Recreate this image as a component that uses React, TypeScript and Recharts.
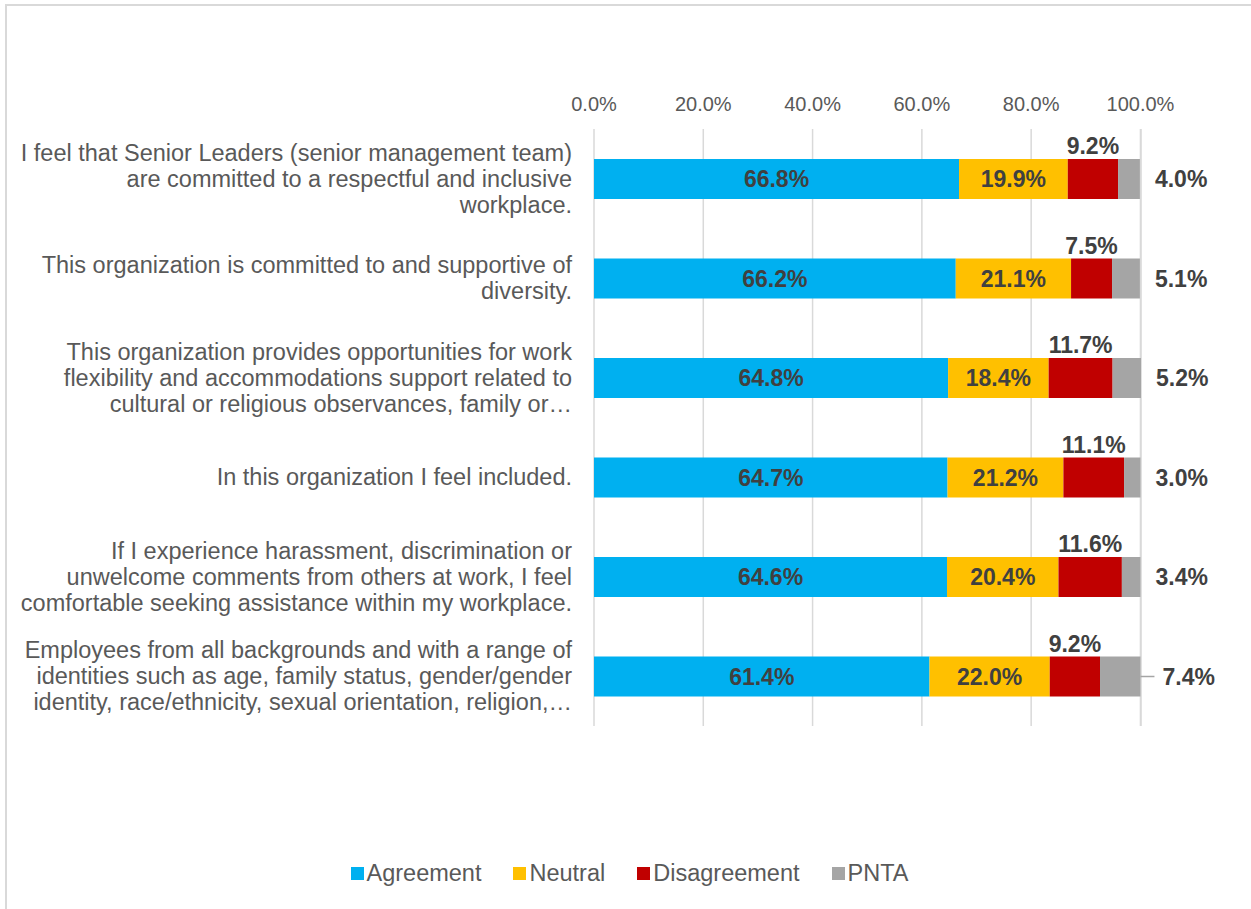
import { BarChart, Bar, XAxis, YAxis, CartesianGrid, LabelList, Legend } from 'recharts';

const questions = [
  'I feel that Senior Leaders (senior management team)\nare committed to a respectful and inclusive\nworkplace.',
  'This organization is committed to and supportive of\ndiversity.',
  'This organization provides opportunities for work\nflexibility and accommodations support related to\ncultural or religious observances, family or…',
  'In this organization I feel included.',
  'If I experience harassment, discrimination or\nunwelcome comments from others at work, I feel\ncomfortable seeking assistance within my workplace.',
  'Employees from all backgrounds and with a range of\nidentities such as age, family status, gender/gender\nidentity, race/ethnicity, sexual orientation, religion,…',
];

const agreement = [66.8, 66.2, 64.8, 64.7, 64.6, 61.4];
const neutral = [19.9, 21.1, 18.4, 21.2, 20.4, 22.0];
const disagreement = [9.2, 7.5, 11.7, 11.1, 11.6, 9.2];
const pnta = [4.0, 5.1, 5.2, 3.0, 3.4, 7.4];

const xTicks = [0, 20, 40, 60, 80, 100];

const SERIES = [
  { key: 'Agreement', color: '#00B0F0' },
  { key: 'Neutral', color: '#FFC000' },
  { key: 'Disagreement', color: '#C00000' },
  { key: 'PNTA', color: '#A5A5A5' },
];

const chartData = questions.map((q, i) => ({
  question: q,
  Agreement: agreement[i],
  Neutral: neutral[i],
  Disagreement: disagreement[i],
  PNTA: pnta[i],
}));

const FONT = 'Arial, "Liberation Sans", sans-serif';
const fmt = (v: any) => `${Number(v).toFixed(1)}%`;

const labelStyle = { fontFamily: FONT, fontSize: 23, fontWeight: 700, fill: '#404040' };

const QuestionTick = (props: any) => {
  const { x, y, payload } = props;
  const lines = String(payload.value).split('\n');
  const lineH = 26;
  const startY = y - ((lines.length - 1) * lineH) / 2;
  const tx = x - 14;
  return (
    <text x={tx} y={startY} textAnchor="end" dominantBaseline="central" fontFamily={FONT} fontSize={23.5} fill="#595959">
      {lines.map((line, i) => (
        <tspan key={i} x={tx} y={startY + i * lineH}>
          {line}
        </tspan>
      ))}
    </text>
  );
};

// PNTA label sits right of the 100% line; small leader when the slice is wide
const PntaLabel = (props: any) => {
  const { x, y, width, height, value } = props;
  const endX = x + width;
  const cy = y + height / 2;
  const hasLeader = value > 7;
  const tx = endX + (hasLeader ? 22 : 15);
  return (
    <g>
      {hasLeader && <line x1={endX} y1={cy} x2={endX + 14} y2={cy} stroke="#A5A5A5" strokeWidth={1.5} />}
      <text x={tx} y={cy} dominantBaseline="central" {...labelStyle}>
        {fmt(value)}
      </text>
    </g>
  );
};

const renderLegend = () => (
  <div style={{ display: 'flex', justifyContent: 'center', gap: 32, fontFamily: FONT, fontSize: 23.5, color: '#595959', paddingLeft: 8 }}>
    {SERIES.map((s) => (
      <div key={s.key} style={{ display: 'flex', alignItems: 'center', gap: 3 }}>
        <div style={{ width: 13, height: 13, backgroundColor: s.color }} />
        <span>{s.key}</span>
      </div>
    ))}
  </div>
);

export default function App() {
  return (
    <div style={{ position: 'absolute', left: 0, top: 0, width: 1251, height: 909, background: '#fff' }}>
      <div
        style={{
          position: 'absolute',
          left: 5,
          top: 4,
          right: 0,
          bottom: 0,
          borderLeft: '2px solid #D9D9D9',
          borderTop: '2px solid #D9D9D9',
        }}
      />
      <BarChart
        width={1251}
        height={909}
        data={chartData}
        layout="vertical"
        barSize={40}
        margin={{ top: 80, right: 110, bottom: 153, left: 0 }}
        style={{ position: 'absolute', left: 0, top: 0 }}
      >
        <CartesianGrid horizontal={false} stroke="#D9D9D9" strokeWidth={1.5} />
        <XAxis
          type="number"
          orientation="top"
          domain={[0, 100]}
          ticks={xTicks}
          tickFormatter={fmt}
          axisLine={false}
          tickLine={false}
          height={49}
          tickSize={10}
          tickMargin={8}
          tick={{ fontFamily: FONT, fontSize: 20, fill: '#595959' }}
        />
        <YAxis
          type="category"
          dataKey="question"
          width={594}
          axisLine={false}
          tickLine={false}
          tick={<QuestionTick />}
          interval={0}
        />
        <Legend
          verticalAlign="bottom"
          content={renderLegend}
          wrapperStyle={{ top: 860, left: 0, width: 1251, height: 30 }}
        />
        <Bar dataKey="Agreement" stackId="a" fill="#00B0F0" isAnimationActive={false}>
          <LabelList dataKey="Agreement" position="center" formatter={fmt} style={labelStyle} />
        </Bar>
        <Bar dataKey="Neutral" stackId="a" fill="#FFC000" isAnimationActive={false}>
          <LabelList dataKey="Neutral" position="center" formatter={fmt} style={labelStyle} />
        </Bar>
        <Bar dataKey="Disagreement" stackId="a" fill="#C00000" isAnimationActive={false}>
          <LabelList dataKey="Disagreement" position="top" offset={5} formatter={fmt} style={labelStyle} />
        </Bar>
        <Bar dataKey="PNTA" stackId="a" fill="#A5A5A5" isAnimationActive={false}>
          <LabelList dataKey="PNTA" content={<PntaLabel />} />
        </Bar>
      </BarChart>
    </div>
  );
}
